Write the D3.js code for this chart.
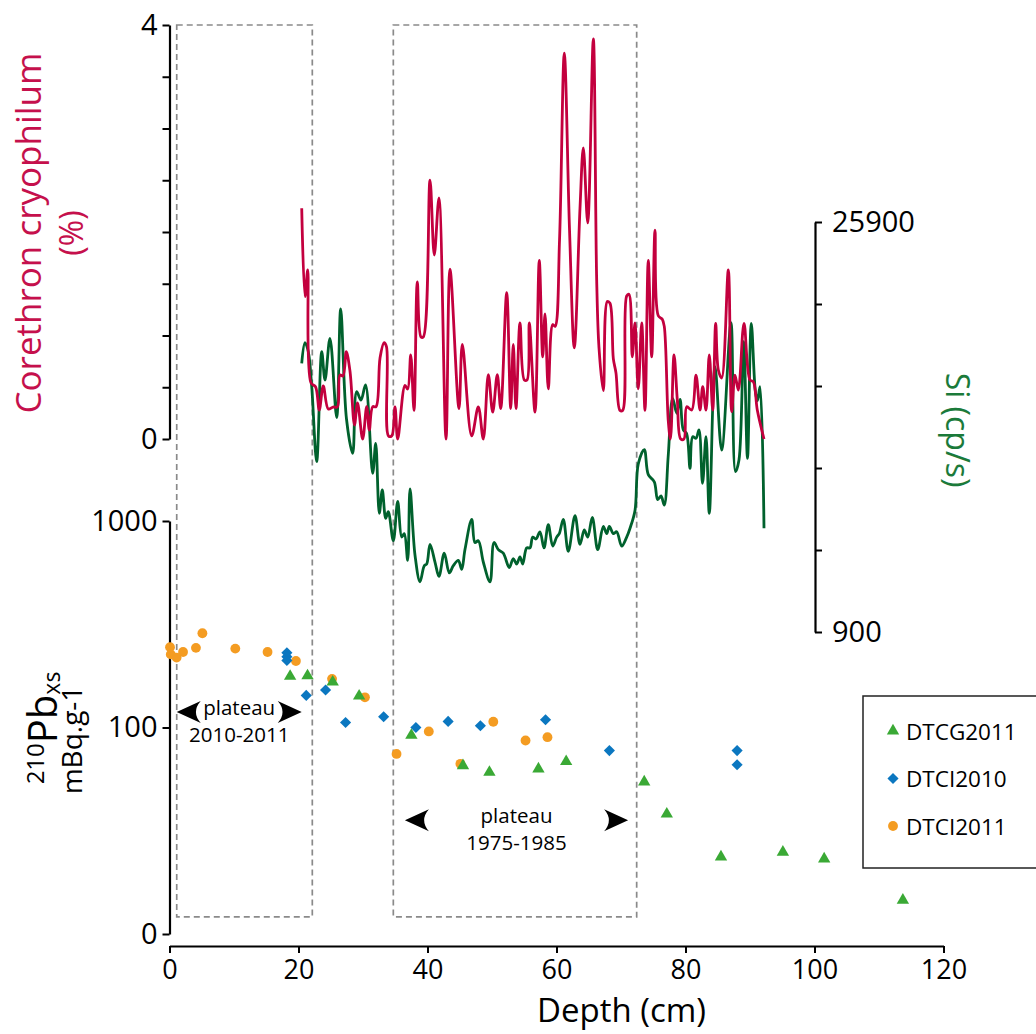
<!DOCTYPE html>
<html>
<head>
<meta charset="utf-8">
<script src="https://cdn.jsdelivr.net/npm/d3@7"></script>
<style>
  body { margin: 0; background: #fff; }
  svg { display: block; }
</style>
</head>
<body>
<script>
// ---------------- DATA ----------------
const depthTicks = [0, 20, 40, 60, 80, 100, 120];
const corethronTicks = [0, 0.5, 1, 1.5, 2, 2.5, 3, 3.5, 4];
const corethronTickLabels = ["0", "", "", "", "", "", "", "", "4"];
const siTicks = [900, 5900, 10900, 15900, 20900, 25900];
const siTickLabels = ["900", "", "", "", "", "25900"];
const pbTicks = [10, 100, 1000];
const pbTickLabels = ["0", "100", "1000"];

// Corethron cryophilum (%) vs depth (cm)
const corethronDepth = [20.50,21.01,21.43,21.94,22.64,23.22,23.84,24.62,25.35,26.02,26.43,26.90,27.41,27.98,28.68,29.15,29.95,30.57,30.98,31.50,32.02,32.64,33.26,33.64,33.95,34.45,34.96,35.38,36.51,36.93,37.40,37.91,38.42,38.99,39.35,40.39,41.05,41.78,42.87,43.49,44.88,45.40,46.85,47.88,48.65,49.43,50.11,50.82,51.35,52.28,52.90,53.30,53.72,54.34,55.01,55.43,55.78,56.67,57.33,57.86,58.22,58.73,59.41,59.77,60.47,61.21,62.02,62.76,63.64,64.16,64.84,65.71,66.23,66.59,67.26,67.88,68.29,68.81,69.22,69.84,70.26,70.88,71.24,71.75,72.17,72.68,73.21,73.72,74.23,74.76,75.27,75.78,76.40,76.71,77.33,77.67,78.22,78.73,79.26,79.77,80.19,80.96,81.63,82.25,82.67,83.18,83.69,84.22,84.68,85.09,85.61,86.64,87.16,87.67,88.19,89.07,90.00,90.51,91.13,92.17];
const corethronPct = [2.23,1.375,1.633,0.541,0.505,0.28,0.512,0.29,0.309,0.309,0.618,0.609,0.843,0.657,0.135,0.348,0.0,0.312,0.087,0.312,0.312,0.783,0.93,0.892,0.03,0.03,0.311,0.0,0.518,0.483,0.812,0.276,1.519,0.986,0.986,2.502,1.778,2.329,0.0,1.64,0.294,0.915,0.03,0.311,0.0,0.622,0.26,0.622,0.294,1.415,0.294,0.915,0.294,1.122,0.57,0.57,1.122,0.26,1.726,0.794,1.209,0.484,1.105,1.088,1.923,3.727,2.019,0.88,2.226,2.813,2.088,3.866,1.536,0.88,0.467,1.329,1.312,0.777,0.639,0.276,0.276,1.382,1.398,0.794,1.122,0.484,1.122,0.276,1.726,0.794,2.019,1.191,1.157,1.088,0.174,0.0,0.812,0.377,0.0,0.0,0.312,0.28,0.618,0.28,0.505,0.28,0.812,0.28,1.118,0.667,0.589,1.633,0.264,0.618,0.473,1.118,0.57,0.554,0.28,0.0];

// Si (cp/s) vs depth (cm)
const siDepth = [20.50,21.01,21.52,22.05,22.82,23.60,24.11,24.88,25.92,26.54,27.44,28.40,29.02,29.69,30.39,31.50,31.97,32.53,32.99,33.52,33.92,34.70,35.38,36.00,36.40,36.93,37.29,38.06,38.84,39.50,39.88,40.39,41.16,41.78,42.60,43.38,44.00,44.78,45.30,45.81,46.85,47.36,47.88,48.65,49.69,50.31,50.98,51.75,52.68,53.30,53.83,54.34,54.76,55.38,55.89,56.31,56.82,57.44,58.06,58.73,59.41,60.03,60.43,61.05,61.83,62.87,63.64,64.31,64.84,65.55,66.39,67.26,67.78,68.19,68.81,69.33,70.11,70.88,71.40,72.17,72.68,73.61,74.23,75.16,75.69,76.20,76.71,77.33,78.01,78.64,79.15,79.66,80.16,80.70,81.12,81.63,82.09,82.64,83.18,83.69,84.57,85.61,87.05,87.75,88.29,89.02,89.61,90.20,90.85,91.16,91.55,92.17];
const siCounts = [17284,18541,17992,15857,11284,17992,16266,18809,13979,20595,13888,11796,15553,15046,15961,10577,12406,8138,9559,7833,8235,6467,8864,6693,6900,5266,9620,5595,3961,4943,5046,6248,5168,4290,5705,4504,4943,5266,4723,5924,7772,6357,6467,5168,3961,6357,5924,5705,4833,5376,5046,5485,5046,6028,6028,6687,6571,7010,6028,7449,6138,6687,6900,7772,5815,7991,6248,7120,6687,7882,5924,7339,6900,7339,6900,7010,6138,6687,7229,8315,11150,12022,10498,10059,8973,9193,8644,11693,15150,14236,15089,13217,13016,10882,12809,12711,13217,9967,12809,8138,17077,11998,19760,10675,11388,18601,11492,19723,15504,14998,15857,7223];

// 210Pbxs (mBq/g) vs depth (cm)
const dtcg2011Depth = [18.7,21.4,25.3,29.4,37.5,45.5,49.6,57.2,61.5,73.6,77.1,85.5,95.1,101.5,113.7];
const dtcg2011Pb    = [177,178,166,142,91.7,65.4,60.7,63,68.4,54.5,38.1,23.6,24.9,23.1,14.6];
const dtci2010Depth = [18.2,18.2,18.2,21.2,24.2,27.3,33.2,38.2,43.2,48.2,58.3,68.2,88.0,88.0];
const dtci2010Pb    = [230,220,211,143,152,105.7,112.7,100,107,102,109,77.3,77.3,66];
const dtci2011Depth = [0.08,0.2,1.1,2.1,4.1,5.1,10.2,15.2,19.6,25.2,30.3,35.2,40.2,45.1,50.2,55.2,58.6];
const dtci2011Pb    = [245,226,218,232,243,286,241,232,210,172,140,74.5,95.7,66.7,106.6,86.5,89.8];

// plateaus (depth ranges, cm) and their annotations
const plateauStart = [1.12, 34.70];
const plateauEnd   = [22.14, 72.43];
const plateauBottomPb = 12.1;
const plateauLine1 = ["plateau", "plateau"];
const plateauLine2 = ["2010-2011", "1975-1985"];
const arrowLeftDepth  = [1.12, 36.5];
const arrowRightDepth = [20.5, 71.1];
const arrowPb = [119, 35.6];

const seriesNames = ["DTCG2011", "DTCI2010", "DTCI2011"];

// ---------------- LAYOUT ----------------
const W = 1036, H = 1034;
const FONT = "'Open Sans', 'Noto Sans', sans-serif";
const RED = "#c3003e", RED_TXT = "#c5104c";
const GREEN = "#00612d", GREEN_TXT = "#1b7a3a";
const colTri = "#3aa935", colDia = "#0b77c0", colCirc = "#f49c22";

const svg = d3.select("body").append("svg").attr("width", W).attr("height", H)
  .style("font-family", FONT);

const x = d3.scaleLinear().domain([0, 120]).range([169.5, 943.5]);
const yCor = d3.scaleLinear().domain([0, 4]).range([439, 25]);
const ySi = d3.scaleLinear().domain([900, 25900]).range([632, 222]);
const yPb = d3.scaleLog().domain([10, 1000]).range([934, 521]);

function styleAxis(g, fs) {
  g.attr("font-family", FONT).attr("font-size", fs);
  g.select(".domain").attr("stroke", "#000").attr("stroke-width", 2.2);
  g.selectAll(".tick line").attr("stroke", "#000").attr("stroke-width", 2);
  g.selectAll(".tick text").attr("fill", "#000");
}

// plateau dashed boxes
const boxes = svg.append("g");
plateauStart.forEach((s, i) => {
  boxes.append("rect")
    .attr("x", x(s)).attr("y", yCor(4))
    .attr("width", x(plateauEnd[i]) - x(s))
    .attr("height", yPb(plateauBottomPb) - yCor(4))
    .attr("fill", "none").attr("stroke", "#8a8a8a")
    .attr("stroke-width", 1.7).attr("stroke-dasharray", "6,4");
});

// axes
const gCor = svg.append("g").attr("transform", `translate(${x(0)},0)`)
  .call(d3.axisLeft(yCor).tickValues(corethronTicks)
    .tickFormat((d, i) => corethronTickLabels[i]).tickSize(7).tickSizeOuter(0).tickPadding(5));
styleAxis(gCor, 29);

const gPb = svg.append("g").attr("transform", `translate(${x(0)},0)`)
  .call(d3.axisLeft(yPb).tickValues(pbTicks)
    .tickFormat((d, i) => pbTickLabels[i]).tickSize(7).tickSizeOuter(0).tickPadding(5));
styleAxis(gPb, 29);

const gSi = svg.append("g").attr("transform", `translate(815,0)`)
  .call(d3.axisRight(ySi).tickValues(siTicks)
    .tickFormat((d, i) => siTickLabels[i]).tickSize(7).tickSizeOuter(0).tickPadding(10));
styleAxis(gSi, 29);

const gX = svg.append("g").attr("transform", `translate(0,946)`)
  .call(d3.axisBottom(x).tickValues(depthTicks).tickSize(7).tickSizeOuter(0).tickPadding(7));
styleAxis(gX, 27);

// lines
const siLine = d3.line().x((d, i) => x(siDepth[i])).y((d, i) => ySi(siCounts[i]))
  .curve(d3.curveCatmullRom.alpha(0.5));
svg.append("path").datum(siCounts).attr("d", siLine)
  .attr("fill", "none").attr("stroke", GREEN).attr("stroke-width", 2.8)
  .attr("stroke-linejoin", "round");

const corLine = d3.line().x((d, i) => x(corethronDepth[i])).y((d, i) => yCor(corethronPct[i]))
  .curve(d3.curveCatmullRom.alpha(0.5));
svg.append("path").datum(corethronPct).attr("d", corLine)
  .attr("fill", "none").attr("stroke", RED).attr("stroke-width", 2.8)
  .attr("stroke-linejoin", "round");

// scatter
const triSym = d3.symbol().type(d3.symbolTriangle).size(66);
const diaSym = d3.symbol().type(d3.symbolSquare).size(62);   // drawn rotated 45° -> square diamond
const circSym = d3.symbol().type(d3.symbolCircle).size(76);

svg.append("g").selectAll("path").data(dtci2011Pb).join("path")
  .attr("d", circSym).attr("fill", colCirc)
  .attr("transform", (d, i) => `translate(${x(dtci2011Depth[i])},${yPb(d)})`);
svg.append("g").selectAll("path").data(dtci2010Pb).join("path")
  .attr("d", diaSym).attr("fill", colDia)
  .attr("transform", (d, i) => `translate(${x(dtci2010Depth[i])},${yPb(d)}) rotate(45)`);
svg.append("g").selectAll("path").data(dtcg2011Pb).join("path")
  .attr("d", triSym).attr("fill", colTri)
  .attr("transform", (d, i) => `translate(${x(dtcg2011Depth[i])},${yPb(d)})`);

// plateau annotations
function chevron(dir) {
  const w = 24, h = 11;
  const s = dir; // -1 points left, +1 points right
  return `M0,0 Q${-s*w*0.45},${-h*0.45} ${-s*w},${-h} Q${-s*w*0.6},0 ${-s*w},${h} Q${-s*w*0.45},${h*0.45} 0,0 Z`;
}
const ann = svg.append("g");
plateauLine1.forEach((t, i) => {
  const xl = x(arrowLeftDepth[i]), xr = x(arrowRightDepth[i]), yy = yPb(arrowPb[i]);
  ann.append("path").attr("d", chevron(-1)).attr("fill", "#000")
    .attr("transform", `translate(${xl},${yy})`);
  ann.append("path").attr("d", chevron(1)).attr("fill", "#000")
    .attr("transform", `translate(${xr},${yy})`);
  const cx = (xl + xr) / 2;
  ann.append("text").attr("x", cx).attr("y", yy + 3).attr("text-anchor", "middle")
    .attr("font-size", 20.5).text(t);
  ann.append("text").attr("x", cx).attr("y", yy + 30).attr("text-anchor", "middle")
    .attr("font-size", 20.5).text(plateauLine2[i]);
});

// axis titles
svg.append("text").attr("transform", "translate(41,233) rotate(-90)")
  .attr("text-anchor", "middle").attr("font-size", 35).attr("fill", RED_TXT)
  .text("Corethron cryophilum");
svg.append("text").attr("transform", "translate(83,233) rotate(-90)")
  .attr("text-anchor", "middle").attr("font-size", 32).attr("fill", RED_TXT)
  .text("(%)");

svg.append("text").attr("transform", "translate(946,430) rotate(90)")
  .attr("text-anchor", "middle").attr("font-size", 32).attr("fill", GREEN_TXT)
  .text("Si (cp/s)");

const pbT = svg.append("text").attr("transform", "translate(57,728) rotate(-90)")
  .attr("text-anchor", "middle").attr("fill", "#000");
pbT.append("tspan").attr("font-size", 24).attr("dy", -13).text("210");
pbT.append("tspan").attr("font-size", 40).attr("dy", 13).text("Pb");
pbT.append("tspan").attr("font-size", 23).attr("dy", 3).text("xs");
svg.append("text").attr("transform", "translate(82,740) rotate(-90)")
  .attr("text-anchor", "middle").attr("font-size", 28).attr("fill", "#000")
  .text("mBq.g-1");

svg.append("text").attr("x", (x(0) + x(120)) / 2 + 65).attr("y", 1022)
  .attr("text-anchor", "middle").attr("font-size", 33).text("Depth (cm)");

// legend
const lg = svg.append("g");
lg.append("rect").attr("x", 863).attr("y", 696).attr("width", 185).attr("height", 172)
  .attr("fill", "#fff").attr("stroke", "#222").attr("stroke-width", 1.5);
const legSyms = [triSym, diaSym, circSym];
const legCols = [colTri, colDia, colCirc];
const legRot = [0, 45, 0];
seriesNames.forEach((n, i) => {
  const yy = 731 + i * 47.5;
  lg.append("path").attr("d", legSyms[i]).attr("fill", legCols[i])
    .attr("transform", `translate(893,${yy}) rotate(${legRot[i]})`);
  lg.append("text").attr("x", 906).attr("y", yy + 8.5).attr("font-size", 22.5).text(n);
});
</script>
</body>
</html>
